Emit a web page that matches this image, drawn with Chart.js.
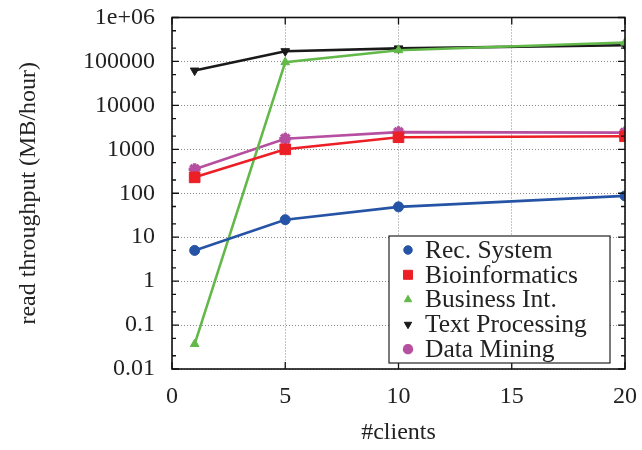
<!DOCTYPE html>
<html>
<head>
<meta charset="utf-8">
<script src="https://cdn.jsdelivr.net/npm/chart.js@4/dist/chart.umd.min.js"></script>
<style>
  html, body { margin: 0; padding: 0; background: #fff; }
  #wrap { width: 642px; height: 450px; }
</style>
</head>
<body>
<div id="wrap"><canvas id="c" width="642" height="450"></canvas></div>
<script>
// ---- data ----
const clients = [1, 5, 10, 20];
const recSystem = [5, 25, 49, 87];
const bioinformatics = [230, 1000, 1880, 1980];
const businessInt = [0.037, 96000, 180000, 269000];
const textProcessing = [62000, 171000, 198000, 234000];
const dataMining = [350, 1740, 2460, 2400];
const seriesNames = ['Rec. System', 'Bioinformatics', 'Business Int.', 'Text Processing', 'Data Mining'];
const yTickValues = [0.01, 0.1, 1, 10, 100, 1000, 10000, 100000, 1000000];
const yTickLabels = ['0.01', '0.1', '1', '10', '100', '1000', '10000', '100000', '1e+06'];
const xTickValues = [0, 5, 10, 15, 20];
const yMinorFactors = [2, 5];

const FONT = "'Liberation Serif', 'Times New Roman', Times, serif";
const TXT = '#222';
const styles = [
  { color: '#2553a5', pointStyle: 'circle', radius: 5, rotation: 0, bw: 1 },
  { color: '#ec1f27', pointStyle: 'rect', radius: 7.5, rotation: 0, bw: 1 },
  { color: '#63b84a', pointStyle: 'triangle', radius: 5, rotation: 0, bw: 1 },
  { color: '#1a1a1a', pointStyle: 'triangle', radius: 5, rotation: 180, bw: 1 },
  { color: '#b64f9f', pointStyle: 'star', radius: 6, rotation: 0, bw: 3.5 }
];
const allSeries = [recSystem, bioinformatics, businessInt, textProcessing, dataMining];

const datasets = allSeries.map((vals, i) => ({
  label: seriesNames[i],
  data: clients.map((c, j) => ({ x: c, y: vals[j] })),
  borderColor: styles[i].color,
  backgroundColor: styles[i].color,
  pointBackgroundColor: styles[i].color,
  pointBorderColor: styles[i].color,
  pointStyle: styles[i].pointStyle,
  pointRadius: styles[i].radius,
  pointRotation: styles[i].rotation,
  pointBorderWidth: styles[i].bw,
  borderWidth: 2.6,
  tension: 0,
  fill: false
}));

function drawMarker(ctx, st, x, y, scale) {
  ctx.save();
  ctx.fillStyle = st.color;
  ctx.strokeStyle = st.color;
  ctx.lineWidth = st.bw;
  if (Chart.helpers && Chart.helpers.drawPoint) {
    Chart.helpers.drawPoint(ctx, { pointStyle: st.pointStyle, radius: st.radius * scale, rotation: st.rotation, borderWidth: st.bw }, x, y);
  }
  ctx.restore();
}

const framePlugin = {
  id: 'frame',
  afterDatasetsDraw(chart) {
    const ctx = chart.ctx;
    const a = chart.chartArea;
    const ys = chart.scales.y, xs = chart.scales.x;
    ctx.save();
    ctx.strokeStyle = '#111';
    ctx.lineWidth = 1.3;
    ctx.beginPath();
    for (let d = -2; d < 6; d++) {
      const base = Math.pow(10, d);
      yMinorFactors.forEach(f => {
        const py = ys.getPixelForValue(base * f);
        ctx.moveTo(a.left, py); ctx.lineTo(a.left + 4, py);
        ctx.moveTo(a.right, py); ctx.lineTo(a.right - 4, py);
      });
    }
    yTickValues.forEach(v => {
      const py = ys.getPixelForValue(v);
      ctx.moveTo(a.left, py); ctx.lineTo(a.left + 7, py);
      ctx.moveTo(a.right, py); ctx.lineTo(a.right - 7, py);
    });
    xTickValues.forEach(v => {
      const px = xs.getPixelForValue(v);
      ctx.moveTo(px, a.bottom); ctx.lineTo(px, a.bottom - 7);
      ctx.moveTo(px, a.top); ctx.lineTo(px, a.top + 7);
    });
    ctx.stroke();
    ctx.lineWidth = 1.6;
    ctx.strokeRect(a.left, a.top, a.right - a.left, a.bottom - a.top);
    ctx.restore();
  },
  afterDraw(chart) {
    const ctx = chart.ctx;
    ctx.save();
    const bx = 389, by = 236, bw = 221, bh = 127;
    ctx.fillStyle = '#fff';
    ctx.fillRect(bx, by, bw, bh);
    ctx.strokeStyle = '#222';
    ctx.lineWidth = 1.2;
    ctx.strokeRect(bx, by, bw, bh);
    ctx.font = '25.5px ' + FONT;
    ctx.fillStyle = TXT;
    ctx.textBaseline = 'middle';
    ctx.textAlign = 'left';
    seriesNames.forEach((n, i) => {
      const y = 250 + i * 24.8;
      drawMarker(ctx, styles[i], 408, y, 0.85);
      ctx.fillStyle = TXT;
      ctx.fillText(n, 425, y + 1);
    });
    ctx.restore();
  }
};

new Chart(document.getElementById('c'), {
  type: 'line',
  data: { datasets },
  plugins: [framePlugin],
  options: {
    responsive: false,
    animation: false,
    devicePixelRatio: 1,
    layout: { padding: { top: 17.5, right: 17, left: 0, bottom: 0 } },
    plugins: { legend: { display: false }, tooltip: { enabled: false } },
    scales: {
      x: {
        type: 'linear',
        min: 0, max: 20,
        afterBuildTicks: s => { s.ticks = xTickValues.map(v => ({ value: v })); },
        afterFit: s => { s.height = 81; s.paddingLeft = 0; s.paddingRight = 0; },
        ticks: { font: { family: FONT, size: 24 }, color: TXT, padding: 13, maxRotation: 0 },
        grid: { color: '#8a8a8a', lineWidth: 1, drawTicks: false },
        border: { display: false, dash: [1, 2] },
        title: { display: true, text: '#clients', font: { family: FONT, size: 24 }, color: TXT, padding: { top: 0, bottom: 3 } }
      },
      y: {
        type: 'logarithmic',
        min: 0.01, max: 1000000,
        afterBuildTicks: s => { s.ticks = yTickValues.map(v => ({ value: v })); },
        afterFit: s => { s.width = 172; s.paddingTop = 0; s.paddingBottom = 0; },
        ticks: {
          font: { family: FONT, size: 24 }, color: TXT, padding: 17,
          callback: (v) => { const i = yTickValues.findIndex(t => Math.abs(t - v) / t < 1e-6); return i >= 0 ? yTickLabels[i] : ''; }
        },
        grid: { color: '#8a8a8a', lineWidth: 1, drawTicks: false },
        border: { display: false, dash: [1, 2] },
        title: { display: true, text: 'read throughput (MB/hour)', font: { family: FONT, size: 24 }, color: TXT, padding: { top: 14, bottom: 0 } }
      }
    }
  }
});
</script>
</body>
</html>
